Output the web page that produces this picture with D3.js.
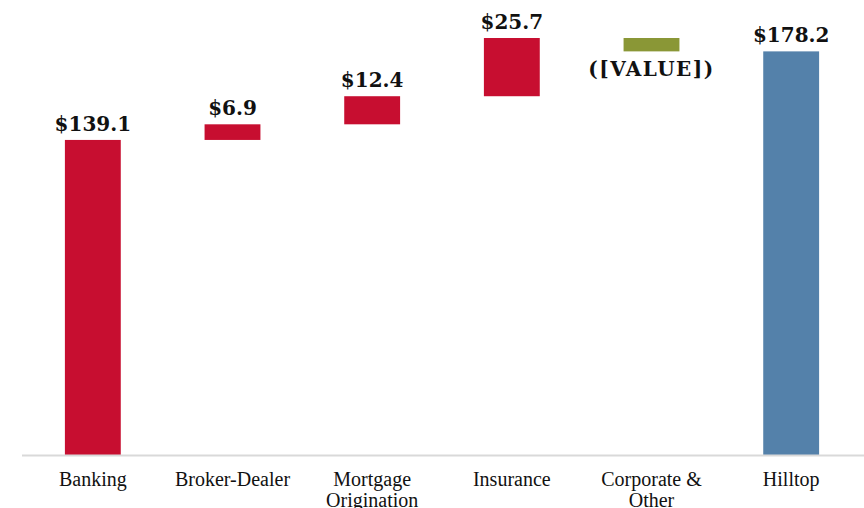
<!DOCTYPE html>
<html>
<head>
<meta charset="utf-8">
<script src="https://cdn.jsdelivr.net/npm/d3@7"></script>
<style>
  body { margin: 0; background: #fff; }
  svg { display: block; }
</style>
</head>
<body>
<script>
const categories = ["Banking", "Broker-Dealer", "Mortgage Origination", "Insurance", "Corporate & Other", "Hilltop"];
const labelLines = [["Banking"], ["Broker-Dealer"], ["Mortgage", "Origination"], ["Insurance"], ["Corporate &", "Other"], ["Hilltop"]];
const values = [139.1, 6.9, 12.4, 25.7, -5.9, 178.2];
const kinds = ["total", "delta", "delta", "delta", "delta", "total"];
const valueLabels = ["$139.1", "$6.9", "$12.4", "$25.7", "([VALUE])", "$178.2"];

const redColor = "#c70e30";
const greenColor = "#8a9736";
const blueColor = "#5481aa";

var width = 864,
  height = 508,
  baseline = 455;

// build waterfall start/end
var running = 0;
var bars = categories.map((c, i) => {
  var start, end;
  if (kinds[i] === "total") {
    start = 0;
    end = values[i];
    running = values[i];
  } else {
    start = running;
    end = running + values[i];
    running = end;
  }
  return { cat: c, i: i, start: start, end: end, value: values[i], kind: kinds[i] };
});

var svg = d3
  .select("body")
  .append("svg")
  .attr("width", width)
  .attr("height", height);

var xScale = d3.scaleBand().domain(categories).range([23, 861]).paddingInner(0.6).paddingOuter(0.3);
var yScale = d3.scaleLinear().domain([0, 200]).range([baseline, 2]);

function barColor(d) {
  if (d.i === 0) return redColor;
  if (d.kind === "total") return blueColor;
  return d.value < 0 ? greenColor : redColor;
}

svg
  .selectAll(".bar")
  .data(bars)
  .enter()
  .append("rect")
  .attr("class", "bar")
  .attr("x", (d) => xScale(d.cat))
  .attr("width", xScale.bandwidth())
  .attr("y", (d) => yScale(Math.max(d.start, d.end)))
  .attr("height", (d) => Math.abs(yScale(d.start) - yScale(d.end)))
  .style("fill", barColor);

// axis line
svg
  .append("line")
  .attr("x1", 22)
  .attr("x2", width)
  .attr("y1", baseline + 0.5)
  .attr("y2", baseline + 0.5)
  .style("stroke", "#d9d9d9")
  .style("stroke-width", "2px");

// value labels
svg
  .selectAll(".val")
  .data(bars)
  .enter()
  .append("text")
  .attr("class", "val")
  .text((d) => valueLabels[d.i])
  .attr("x", (d) => xScale(d.cat) + xScale.bandwidth() / 2)
  .attr("y", (d) =>
    d.value < 0
      ? yScale(Math.min(d.start, d.end)) + 25
      : yScale(Math.max(d.start, d.end)) - 9
  )
  .attr("text-anchor", "middle")
  .style("font-family", "Georgia, 'DejaVu Serif', serif")
  .style("font-weight", "bold")
  .style("font-size", "20px")
  .style("letter-spacing", (d) => (d.value < 0 ? "1.5px" : "0px"))
  .style("fill", "#111");

// category labels
var catText = svg
  .selectAll(".cat")
  .data(bars)
  .enter()
  .append("text")
  .attr("class", "cat")
  .attr("x", (d) => xScale(d.cat) + xScale.bandwidth() / 2)
  .attr("y", 486)
  .attr("text-anchor", "middle")
  .style("font-family", "'Liberation Serif', 'Times New Roman', serif")
  .style("font-size", "20px")
  .style("fill", "#111");

catText
  .selectAll("tspan")
  .data((d) => labelLines[d.i])
  .enter()
  .append("tspan")
  .attr("x", function () { return d3.select(this.parentNode).attr("x"); })
  .attr("dy", (d, j) => (j === 0 ? 0 : 21))
  .text((d) => d);
</script>
</body>
</html>
